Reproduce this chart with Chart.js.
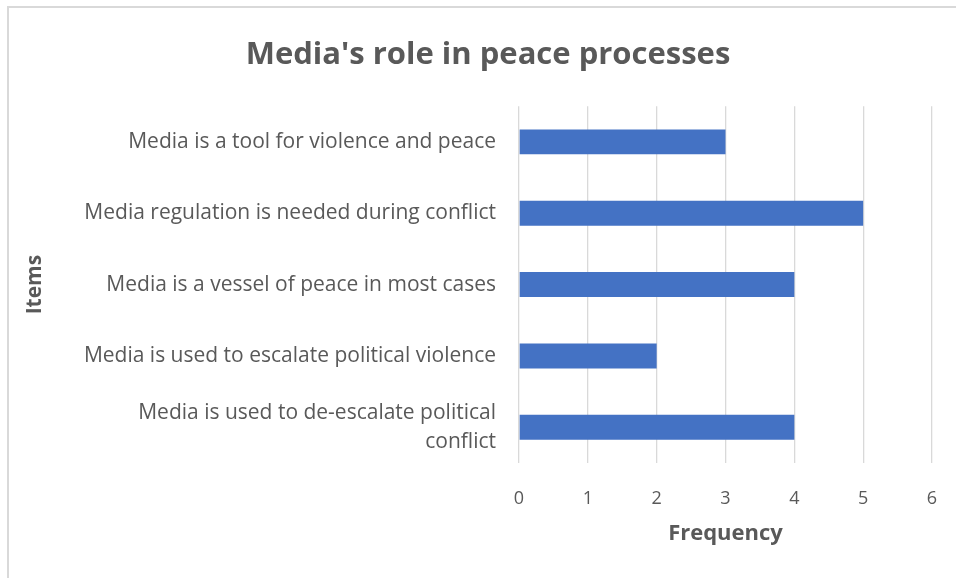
<!DOCTYPE html>
<html>
<head>
<meta charset="utf-8">
<script src="https://cdn.jsdelivr.net/npm/chart.js@4.4.1/dist/chart.umd.min.js"></script>
<style>
  html, body { margin: 0; padding: 0; background: #ffffff; overflow: hidden; }
  #wrap { position: relative; width: 956px; height: 578px; }
  #frame { position: absolute; left: 7px; top: 6px; width: 1000px; height: 1000px;
           border: 2px solid #d9d9d9; box-sizing: border-box; pointer-events: none; }
  canvas { position: absolute; left: 0; top: 0; }
</style>
</head>
<body>
<div id="wrap">
  <canvas id="chart" width="956" height="578"></canvas>
  <div id="frame"></div>
</div>
<script>
// Survey items (top to bottom) and how often each was mentioned
const items = [
  'Media is a tool for violence and peace',
  'Media regulation is needed during conflict',
  'Media is a vessel of peace in most cases',
  'Media is used to escalate political violence',
  ['Media is used to de-escalate political', 'conflict']
];
const frequency = [3, 5, 4, 2, 4];
const frequencyTicks = [0, 1, 2, 3, 4, 5, 6];

const TEXT = '#595959';
const FONT = '"Open Sans", Lato, sans-serif';

// fixed edge padding around the plot area (right side reserved by the value axis)
function setEdgePadding(scale, right) {
  scale.paddingLeft = 0;
  scale.paddingRight = right;
  scale.paddingTop = 0;
  scale.paddingBottom = 0;
}

new Chart(document.getElementById('chart'), {
  type: 'bar',
  data: {
    labels: items,
    datasets: [{
      label: 'Frequency',
      data: frequency,
      backgroundColor: '#4472C4',
      borderWidth: 0,
      categoryPercentage: 1,
      barPercentage: 0.35
    }]
  },
  options: {
    indexAxis: 'y',
    responsive: false,
    animation: false,
    layout: { padding: { left: 20, right: 0, top: 0, bottom: 0 } },
    plugins: {
      legend: { display: false },
      tooltip: { enabled: false },
      title: {
        display: true,
        text: "Media's role in peace processes",
        color: TEXT,
        font: { family: FONT, size: 31, weight: 'bold', lineHeight: 1.2 },
        padding: { top: 37, bottom: 32 }
      }
    },
    scales: {
      x: {
        min: frequencyTicks[0],
        max: frequencyTicks[frequencyTicks.length - 1],
        afterBuildTicks: (scale) => { scale.ticks = frequencyTicks.map(v => ({ value: v })); },
        grid: { color: '#d9d9d9', lineWidth: 1.3, drawTicks: false },
        border: { display: false },
        ticks: { color: TEXT, padding: 25, font: { family: FONT, size: 18 } },
        title: {
          display: true,
          text: 'Frequency',
          color: TEXT,
          font: { family: FONT, size: 22, weight: 'bold', lineHeight: 1.2 },
          padding: { top: 0, bottom: 31 }
        },
        afterFit: (scale) => { scale.height = 115; setEdgePadding(scale, 24); }
      },
      y: {
        grid: { display: false, drawTicks: false },
        border: { display: false },
        ticks: { color: TEXT, padding: 23, font: { family: FONT, size: 21, lineHeight: 1.4 } },
        title: {
          display: true,
          text: 'Items',
          color: TEXT,
          font: { family: FONT, size: 21, weight: 'bold', lineHeight: 1.2 },
          padding: { top: 2, bottom: 0 }
        },
        afterFit: (scale) => { scale.width = 499; setEdgePadding(scale, 0); }
      }
    }
  }
});
</script>
</body>
</html>
